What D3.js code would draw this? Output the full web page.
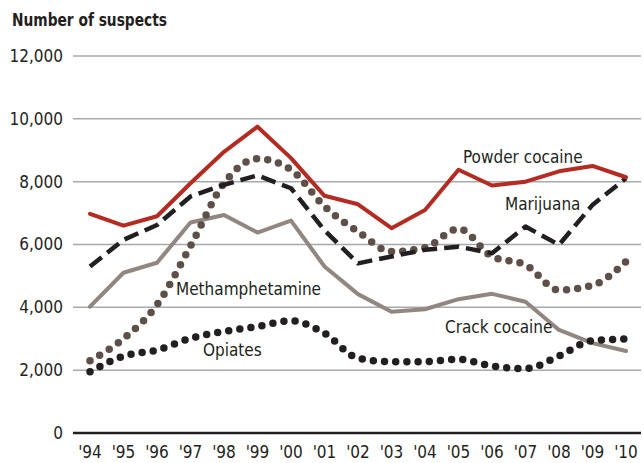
<!DOCTYPE html>
<html>
<head>
<meta charset="utf-8">
<script src="https://cdn.jsdelivr.net/npm/d3@7"></script>
<style>
  body { margin: 0; background: #fff; }
  text { font-family: "Liberation Sans Narrow", "DejaVu Sans Condensed", "Open Sans", sans-serif; }
</style>
</head>
<body>
<div id="chart"></div>
<script>
var width = 644, height = 463;

// data
var years = ["'94","'95","'96","'97","'98","'99","'00","'01","'02","'03","'04","'05","'06","'07","'08","'09","'10"];
var yTicks = [0, 2000, 4000, 6000, 8000, 10000, 12000];

var powder = [6975, 6600, 6900, 7950, 8950, 9750, 8750, 7550, 7280, 6520, 7100, 8380, 7880, 8000, 8330, 8500, 8140];
var marijuana = [5300, 6150, 6620, 7530, 7900, 8200, 7790, 6450, 5400, 5620, 5830, 5930, 5720, 6570, 5990, 7260, 8110];
var meth = [2300, 3000, 4080, 5950, 7950, 8730, 8380, 7210, 6410, 5775, 5900, 6500, 5620, 5350, 4550, 4700, 5460];
var crack = [4020, 5100, 5420, 6700, 6940, 6380, 6760, 5300, 4420, 3860, 3940, 4260, 4430, 4180, 3280, 2860, 2610];
var opiates = [1950, 2450, 2640, 3015, 3230, 3390, 3570, 3175, 2380, 2270, 2270, 2350, 2130, 2050, 2450, 2940, 2990];

var x = d3.scalePoint().domain(years).range([90, 626]);
var y = d3.scaleLinear().domain([0, 12000]).range([433, 56]);

var svg = d3.select("#chart").append("svg")
  .attr("width", width)
  .attr("height", height);

svg.append("text")
  .attr("x", 12).attr("y", 26)
  .attr("font-size", 17).attr("font-weight", "bold")
  .attr("fill", "#231f20")
  .attr("textLength", 155).attr("lengthAdjust", "spacingAndGlyphs")
  .text("Number of suspects");

// gridlines
svg.append("g").selectAll("line")
  .data(yTicks.filter(d => d > 0))
  .enter().append("line")
  .attr("x1", 73).attr("x2", 641)
  .attr("y1", d => y(d)).attr("y2", d => y(d))
  .attr("stroke", "#a7a9ac").attr("stroke-width", 1.5);

svg.append("line")
  .attr("x1", 73).attr("x2", 641)
  .attr("y1", y(0)).attr("y2", y(0))
  .attr("stroke", "#231f20").attr("stroke-width", 2.5);

// y labels
svg.append("g").selectAll("text")
  .data(yTicks)
  .enter().append("text")
  .attr("x", 63).attr("y", d => y(d))
  .attr("dy", "0.35em")
  .attr("text-anchor", "end")
  .attr("font-size", 17)
  .attr("fill", "#231f20")
  .text(d => d3.format(",")(d));

// x labels
svg.append("g").selectAll("text")
  .data(years)
  .enter().append("text")
  .attr("x", d => x(d)).attr("y", 458)
  .attr("text-anchor", "middle")
  .attr("font-size", 17)
  .attr("fill", "#231f20")
  .text(d => d);

function drawLine(vals, color, w, dash, curve, cap) {
  var line = d3.line()
    .x((d, i) => x(years[i]))
    .y(d => y(d))
    .curve(curve);
  svg.append("path")
    .datum(vals)
    .attr("d", line)
    .attr("fill", "none")
    .attr("stroke", color)
    .attr("stroke-width", w)
    .attr("stroke-dasharray", dash)
    .attr("stroke-linecap", cap)
    .attr("stroke-linejoin", "round");
}

drawLine(crack, "#918680", 4, null, d3.curveLinear, "round");
drawLine(opiates, "#231f20", 7.5, "0 11.2", d3.curveMonotoneX, "round");
drawLine(meth, "#5e5049", 7.5, "0 11.2", d3.curveMonotoneX, "round");
drawLine(marijuana, "#231f20", 4.5, "15 7", d3.curveLinear, "butt");
drawLine(powder, "#b32b21", 4, null, d3.curveLinear, "round");

// series labels
var labels = [
  {t: "Powder cocaine", x: 463, y: 157},
  {t: "Marijuana", x: 505, y: 204},
  {t: "Methamphetamine", x: 176, y: 289},
  {t: "Opiates", x: 203, y: 350},
  {t: "Crack cocaine", x: 445, y: 327}
];
svg.append("g").selectAll("text")
  .data(labels)
  .enter().append("text")
  .attr("x", d => d.x).attr("y", d => d.y)
  .attr("dy", "0.35em")
  .attr("font-size", 17)
  .attr("fill", "#231f20")
  .text(d => d.t);
</script>
</body>
</html>
